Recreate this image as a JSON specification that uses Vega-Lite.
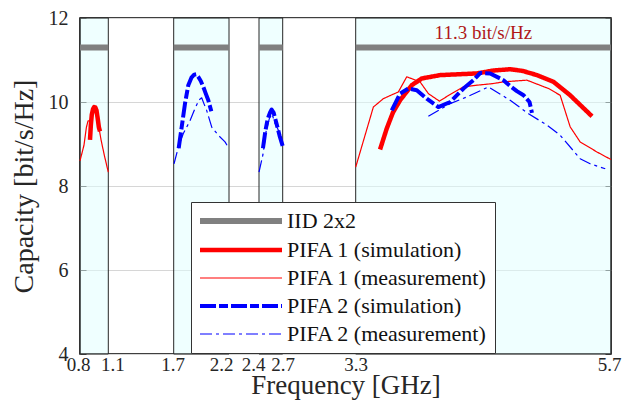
{
  "$schema": "https://vega.github.io/schema/vega-lite/v6.json",
  "width": 531,
  "height": 336,
  "autosize": {"type": "none"},
  "padding": {"left": 80, "top": 18, "right": 13, "bottom": 46},
  "background": "white",
  "config": {
    "font": "Liberation Serif",
    "view": {"stroke": "#000", "strokeWidth": 1.5},
    "axis": {"domain": false, "labelFont": "Liberation Serif", "titleFont": "Liberation Serif", "titleFontWeight": "normal", "labelColor": "#262626", "titleColor": "#262626"}
  },
  "datasets": {
    "bands": [
      {"f": 0.8, "f2": 1.1},
      {"f": 1.7, "f2": 2.2},
      {"f": 2.4, "f2": 2.7},
      {"f": 3.3, "f2": 5.7}
    ],
    "curves": [
      {"s": "IID 2x2", "g": 1, "f": 0.8, "c": 11.3},
      {"s": "IID 2x2", "g": 1, "f": 1.1, "c": 11.3},
      {"s": "IID 2x2", "g": 2, "f": 1.7, "c": 11.3},
      {"s": "IID 2x2", "g": 2, "f": 2.2, "c": 11.3},
      {"s": "IID 2x2", "g": 3, "f": 2.4, "c": 11.3},
      {"s": "IID 2x2", "g": 3, "f": 2.7, "c": 11.3},
      {"s": "IID 2x2", "g": 4, "f": 3.3, "c": 11.3},
      {"s": "IID 2x2", "g": 4, "f": 5.7, "c": 11.3},

      {"s": "PIFA 1 (measurement)", "g": 1, "f": 0.8, "c": 8.6},
      {"s": "PIFA 1 (measurement)", "g": 1, "f": 0.842, "c": 8.97},
      {"s": "PIFA 1 (measurement)", "g": 1, "f": 0.868, "c": 9.4},
      {"s": "PIFA 1 (measurement)", "g": 1, "f": 0.885, "c": 9.55},
      {"s": "PIFA 1 (measurement)", "g": 1, "f": 0.905, "c": 9.55},
      {"s": "PIFA 1 (measurement)", "g": 1, "f": 0.93, "c": 9.75},
      {"s": "PIFA 1 (measurement)", "g": 1, "f": 0.955, "c": 9.85},
      {"s": "PIFA 1 (measurement)", "g": 1, "f": 0.98, "c": 9.6},
      {"s": "PIFA 1 (measurement)", "g": 1, "f": 1.0, "c": 9.4},
      {"s": "PIFA 1 (measurement)", "g": 1, "f": 1.023, "c": 9.1},
      {"s": "PIFA 1 (measurement)", "g": 1, "f": 1.058, "c": 8.73},
      {"s": "PIFA 1 (measurement)", "g": 1, "f": 1.1, "c": 8.33},
      {"s": "PIFA 1 (measurement)", "g": 4, "f": 3.3, "c": 8.45},
      {"s": "PIFA 1 (measurement)", "g": 4, "f": 3.466, "c": 9.88},
      {"s": "PIFA 1 (measurement)", "g": 4, "f": 3.56, "c": 10.08},
      {"s": "PIFA 1 (measurement)", "g": 4, "f": 3.701, "c": 10.24},
      {"s": "PIFA 1 (measurement)", "g": 4, "f": 3.78, "c": 10.6},
      {"s": "PIFA 1 (measurement)", "g": 4, "f": 3.905, "c": 10.48},
      {"s": "PIFA 1 (measurement)", "g": 4, "f": 3.983, "c": 10.2},
      {"s": "PIFA 1 (measurement)", "g": 4, "f": 4.087, "c": 10.02},
      {"s": "PIFA 1 (measurement)", "g": 4, "f": 4.188, "c": 10.18},
      {"s": "PIFA 1 (measurement)", "g": 4, "f": 4.313, "c": 10.36},
      {"s": "PIFA 1 (measurement)", "g": 4, "f": 4.439, "c": 10.4},
      {"s": "PIFA 1 (measurement)", "g": 4, "f": 4.595, "c": 10.44},
      {"s": "PIFA 1 (measurement)", "g": 4, "f": 4.689, "c": 10.48},
      {"s": "PIFA 1 (measurement)", "g": 4, "f": 4.909, "c": 10.52},
      {"s": "PIFA 1 (measurement)", "g": 4, "f": 5.113, "c": 10.32},
      {"s": "PIFA 1 (measurement)", "g": 4, "f": 5.222, "c": 10.16},
      {"s": "PIFA 1 (measurement)", "g": 4, "f": 5.316, "c": 9.41},
      {"s": "PIFA 1 (measurement)", "g": 4, "f": 5.41, "c": 9.05},
      {"s": "PIFA 1 (measurement)", "g": 4, "f": 5.568, "c": 8.81},
      {"s": "PIFA 1 (measurement)", "g": 4, "f": 5.7, "c": 8.63},

      {"s": "PIFA 1 (simulation)", "g": 1, "f": 0.906, "c": 9.1},
      {"s": "PIFA 1 (simulation)", "g": 1, "f": 0.915, "c": 9.45},
      {"s": "PIFA 1 (simulation)", "g": 1, "f": 0.925, "c": 9.7},
      {"s": "PIFA 1 (simulation)", "g": 1, "f": 0.938, "c": 9.83},
      {"s": "PIFA 1 (simulation)", "g": 1, "f": 0.95, "c": 9.88},
      {"s": "PIFA 1 (simulation)", "g": 1, "f": 0.962, "c": 9.87},
      {"s": "PIFA 1 (simulation)", "g": 1, "f": 0.975, "c": 9.8},
      {"s": "PIFA 1 (simulation)", "g": 1, "f": 0.988, "c": 9.6},
      {"s": "PIFA 1 (simulation)", "g": 1, "f": 1.0, "c": 9.4},
      {"s": "PIFA 1 (simulation)", "g": 1, "f": 1.012, "c": 9.3},
      {"s": "PIFA 1 (simulation)", "g": 4, "f": 3.529, "c": 8.87},
      {"s": "PIFA 1 (simulation)", "g": 4, "f": 3.592, "c": 9.37},
      {"s": "PIFA 1 (simulation)", "g": 4, "f": 3.65, "c": 9.75},
      {"s": "PIFA 1 (simulation)", "g": 4, "f": 3.717, "c": 10.04},
      {"s": "PIFA 1 (simulation)", "g": 4, "f": 3.827, "c": 10.4},
      {"s": "PIFA 1 (simulation)", "g": 4, "f": 3.921, "c": 10.56},
      {"s": "PIFA 1 (simulation)", "g": 4, "f": 4.093, "c": 10.64},
      {"s": "PIFA 1 (simulation)", "g": 4, "f": 4.439, "c": 10.68},
      {"s": "PIFA 1 (simulation)", "g": 4, "f": 4.595, "c": 10.75},
      {"s": "PIFA 1 (simulation)", "g": 4, "f": 4.752, "c": 10.78},
      {"s": "PIFA 1 (simulation)", "g": 4, "f": 4.87, "c": 10.74},
      {"s": "PIFA 1 (simulation)", "g": 4, "f": 5.004, "c": 10.64},
      {"s": "PIFA 1 (simulation)", "g": 4, "f": 5.16, "c": 10.48},
      {"s": "PIFA 1 (simulation)", "g": 4, "f": 5.316, "c": 10.16},
      {"s": "PIFA 1 (simulation)", "g": 4, "f": 5.521, "c": 9.66},

      {"s": "PIFA 2 (measurement)", "g": 2, "f": 1.703, "c": 8.53},
      {"s": "PIFA 2 (measurement)", "g": 2, "f": 1.745, "c": 8.95},
      {"s": "PIFA 2 (measurement)", "g": 2, "f": 1.787, "c": 9.25},
      {"s": "PIFA 2 (measurement)", "g": 2, "f": 1.847, "c": 9.55},
      {"s": "PIFA 2 (measurement)", "g": 2, "f": 1.893, "c": 9.85},
      {"s": "PIFA 2 (measurement)", "g": 2, "f": 1.93, "c": 10.05},
      {"s": "PIFA 2 (measurement)", "g": 2, "f": 1.953, "c": 10.1},
      {"s": "PIFA 2 (measurement)", "g": 2, "f": 1.975, "c": 9.95},
      {"s": "PIFA 2 (measurement)", "g": 2, "f": 1.998, "c": 9.8},
      {"s": "PIFA 2 (measurement)", "g": 2, "f": 2.044, "c": 9.4},
      {"s": "PIFA 2 (measurement)", "g": 2, "f": 2.103, "c": 9.21},
      {"s": "PIFA 2 (measurement)", "g": 2, "f": 2.164, "c": 9.05},
      {"s": "PIFA 2 (measurement)", "g": 2, "f": 2.2, "c": 8.89},
      {"s": "PIFA 2 (measurement)", "g": 3, "f": 2.4, "c": 8.33},
      {"s": "PIFA 2 (measurement)", "g": 3, "f": 2.45, "c": 8.75},
      {"s": "PIFA 2 (measurement)", "g": 3, "f": 2.49, "c": 9.3},
      {"s": "PIFA 2 (measurement)", "g": 3, "f": 2.53, "c": 9.6},
      {"s": "PIFA 2 (measurement)", "g": 3, "f": 2.565, "c": 9.72},
      {"s": "PIFA 2 (measurement)", "g": 3, "f": 2.6, "c": 9.5},
      {"s": "PIFA 2 (measurement)", "g": 3, "f": 2.64, "c": 9.35},
      {"s": "PIFA 2 (measurement)", "g": 3, "f": 2.7, "c": 9.0},
      {"s": "PIFA 2 (measurement)", "g": 4, "f": 3.983, "c": 9.66},
      {"s": "PIFA 2 (measurement)", "g": 4, "f": 4.188, "c": 9.96},
      {"s": "PIFA 2 (measurement)", "g": 4, "f": 4.345, "c": 10.12},
      {"s": "PIFA 2 (measurement)", "g": 4, "f": 4.548, "c": 10.36},
      {"s": "PIFA 2 (measurement)", "g": 4, "f": 4.752, "c": 10.04},
      {"s": "PIFA 2 (measurement)", "g": 4, "f": 4.925, "c": 9.72},
      {"s": "PIFA 2 (measurement)", "g": 4, "f": 5.098, "c": 9.45},
      {"s": "PIFA 2 (measurement)", "g": 4, "f": 5.222, "c": 9.21},
      {"s": "PIFA 2 (measurement)", "g": 4, "f": 5.41, "c": 8.65},
      {"s": "PIFA 2 (measurement)", "g": 4, "f": 5.504, "c": 8.53},
      {"s": "PIFA 2 (measurement)", "g": 4, "f": 5.646, "c": 8.41},

      {"s": "PIFA 2 (simulation)", "g": 2, "f": 1.745, "c": 8.9},
      {"s": "PIFA 2 (simulation)", "g": 2, "f": 1.772, "c": 9.4},
      {"s": "PIFA 2 (simulation)", "g": 2, "f": 1.802, "c": 9.96},
      {"s": "PIFA 2 (simulation)", "g": 2, "f": 1.832, "c": 10.4},
      {"s": "PIFA 2 (simulation)", "g": 2, "f": 1.86, "c": 10.58},
      {"s": "PIFA 2 (simulation)", "g": 2, "f": 1.885, "c": 10.65},
      {"s": "PIFA 2 (simulation)", "g": 2, "f": 1.905, "c": 10.66},
      {"s": "PIFA 2 (simulation)", "g": 2, "f": 1.922, "c": 10.6},
      {"s": "PIFA 2 (simulation)", "g": 2, "f": 1.945, "c": 10.5},
      {"s": "PIFA 2 (simulation)", "g": 2, "f": 1.968, "c": 10.36},
      {"s": "PIFA 2 (simulation)", "g": 2, "f": 1.99, "c": 10.2},
      {"s": "PIFA 2 (simulation)", "g": 2, "f": 2.013, "c": 10.04},
      {"s": "PIFA 2 (simulation)", "g": 2, "f": 2.04, "c": 9.78},
      {"s": "PIFA 2 (simulation)", "g": 3, "f": 2.45, "c": 8.9},
      {"s": "PIFA 2 (simulation)", "g": 3, "f": 2.48, "c": 9.3},
      {"s": "PIFA 2 (simulation)", "g": 3, "f": 2.51, "c": 9.6},
      {"s": "PIFA 2 (simulation)", "g": 3, "f": 2.54, "c": 9.75},
      {"s": "PIFA 2 (simulation)", "g": 3, "f": 2.56, "c": 9.82},
      {"s": "PIFA 2 (simulation)", "g": 3, "f": 2.585, "c": 9.75},
      {"s": "PIFA 2 (simulation)", "g": 3, "f": 2.62, "c": 9.5},
      {"s": "PIFA 2 (simulation)", "g": 3, "f": 2.66, "c": 9.2},
      {"s": "PIFA 2 (simulation)", "g": 3, "f": 2.7, "c": 8.95},
      {"s": "PIFA 2 (simulation)", "g": 4, "f": 3.639, "c": 9.8},
      {"s": "PIFA 2 (simulation)", "g": 4, "f": 3.717, "c": 10.2},
      {"s": "PIFA 2 (simulation)", "g": 4, "f": 3.795, "c": 10.32},
      {"s": "PIFA 2 (simulation)", "g": 4, "f": 3.874, "c": 10.28},
      {"s": "PIFA 2 (simulation)", "g": 4, "f": 3.968, "c": 10.08},
      {"s": "PIFA 2 (simulation)", "g": 4, "f": 4.077, "c": 9.88},
      {"s": "PIFA 2 (simulation)", "g": 4, "f": 4.188, "c": 10.0},
      {"s": "PIFA 2 (simulation)", "g": 4, "f": 4.313, "c": 10.32},
      {"s": "PIFA 2 (simulation)", "g": 4, "f": 4.407, "c": 10.52},
      {"s": "PIFA 2 (simulation)", "g": 4, "f": 4.47, "c": 10.69},
      {"s": "PIFA 2 (simulation)", "g": 4, "f": 4.564, "c": 10.68},
      {"s": "PIFA 2 (simulation)", "g": 4, "f": 4.689, "c": 10.52},
      {"s": "PIFA 2 (simulation)", "g": 4, "f": 4.752, "c": 10.38},
      {"s": "PIFA 2 (simulation)", "g": 4, "f": 4.815, "c": 10.26},
      {"s": "PIFA 2 (simulation)", "g": 4, "f": 4.878, "c": 10.16},
      {"s": "PIFA 2 (simulation)", "g": 4, "f": 4.934, "c": 10.0},
      {"s": "PIFA 2 (simulation)", "g": 4, "f": 4.957, "c": 9.74}
    ],
    "notes": [
      {"f": 4.5, "c": 11.64, "label": "11.3 bit/s/Hz"}
    ]
  },
  "encoding": {
    "x": {
      "field": "f", "type": "quantitative",
      "scale": {"domain": [0.8, 1.1, 1.7, 2.2, 2.4, 2.7, 3.3, 5.7], "range": [0, 28.3, 93.7, 149, 179, 202.7, 275.7, 531], "padding": 0, "nice": false, "zero": false},
      "axis": {
        "values": [0.8, 1.1, 1.7, 2.2, 2.4, 2.7, 3.3, 5.7], "title": "Frequency [GHz]", "ticks": false, "grid": false, "labelPadding": 1, "labelFontSize": 19, "labelOverlap": false, "labelFlush": false, "titleFontSize": 27, "titleBaseline": "alphabetic", "titleY": 39,
        "labelOffset": {
          "condition": [
            {"test": "datum.value == 0.8", "value": -2},
            {"test": "datum.value == 1.1", "value": 4},
            {"test": "datum.value == 1.7", "value": -1},
            {"test": "datum.value == 2.2", "value": -8},
            {"test": "datum.value == 2.4", "value": -6},
            {"test": "datum.value == 2.7", "value": 0},
            {"test": "datum.value == 5.7", "value": -2}
          ],
          "value": 0
        }
      }
    }
  },
  "layer": [
    {
      "data": {"name": "bands"},
      "mark": {"type": "rect", "fill": "#e0ffff", "fillOpacity": 0.5, "stroke": "#262626", "strokeWidth": 1},
      "encoding": {
        "x2": {"field": "f2"}
      }
    },
    {
      "data": {"name": "curves"},
      "mark": {"type": "line", "strokeCap": "butt", "strokeJoin": "round"},
      "encoding": {
        "y": {
          "field": "c", "type": "quantitative",
          "scale": {"domain": [4, 12], "nice": false, "zero": false},
          "axis": {"orient": "left", "values": [4, 6, 8, 10, 12], "title": "Capacity [bit/s/Hz]", "titleFontSize": 28, "titlePadding": 10, "labelFontSize": 20, "labelPadding": 18, "tickSize": -6, "tickColor": "#444", "grid": true, "gridColor": "#d6d6d6", "gridWidth": 1.2}
        },
        "detail": {"field": "g"},
        "color": {
          "field": "s", "type": "nominal",
          "scale": {"domain": ["IID 2x2", "PIFA 1 (simulation)", "PIFA 1 (measurement)", "PIFA 2 (simulation)", "PIFA 2 (measurement)"], "range": ["#808080", "#ff0000", "#ff0000", "#0000ff", "#0000ff"]},
          "legend": {"orient": "none", "legendX": 111, "legendY": 184, "title": null, "symbolType": "M-2,0H14.4", "symbolSize": 100, "labelFontSize": 22, "labelFont": "Liberation Serif", "labelColor": "#111", "labelLimit": 400, "fillColor": "white", "strokeColor": "#333", "padding": 8, "rowPadding": 6, "labelOffset": 66}
        },
        "strokeWidth": {
          "field": "s", "type": "nominal",
          "scale": {"type": "ordinal", "domain": ["IID 2x2", "PIFA 1 (simulation)", "PIFA 1 (measurement)", "PIFA 2 (simulation)", "PIFA 2 (measurement)"], "range": [6, 4.5, 1.2, 4, 1.2]},
          "legend": {"orient": "none", "legendX": 111, "legendY": 184, "title": null}
        },
        "strokeDash": {
          "field": "s", "type": "nominal",
          "scale": {"domain": ["IID 2x2", "PIFA 1 (simulation)", "PIFA 1 (measurement)", "PIFA 2 (simulation)", "PIFA 2 (measurement)"], "range": [[1, 0], [1, 0], [1, 0], [16, 3, 9, 3], [12, 4, 3, 4]]},
          "legend": {"orient": "none", "legendX": 111, "legendY": 184, "title": null}
        }
      }
    },
    {
      "data": {"name": "notes"},
      "mark": {"type": "text", "color": "#b01818", "fontSize": 19, "font": "Liberation Serif", "baseline": "middle", "align": "center"},
      "encoding": {
        "y": {
          "field": "c", "type": "quantitative",
          "scale": {"domain": [4, 12], "nice": false, "zero": false},
          "axis": {"orient": "right", "values": [4, 6, 8, 10, 12], "title": null, "labels": false, "tickSize": -6, "tickColor": "#444", "grid": false}
        },
        "text": {"field": "label"}
      }
    }
  ],
  "resolve": {"axis": {"y": "independent"}}
}
